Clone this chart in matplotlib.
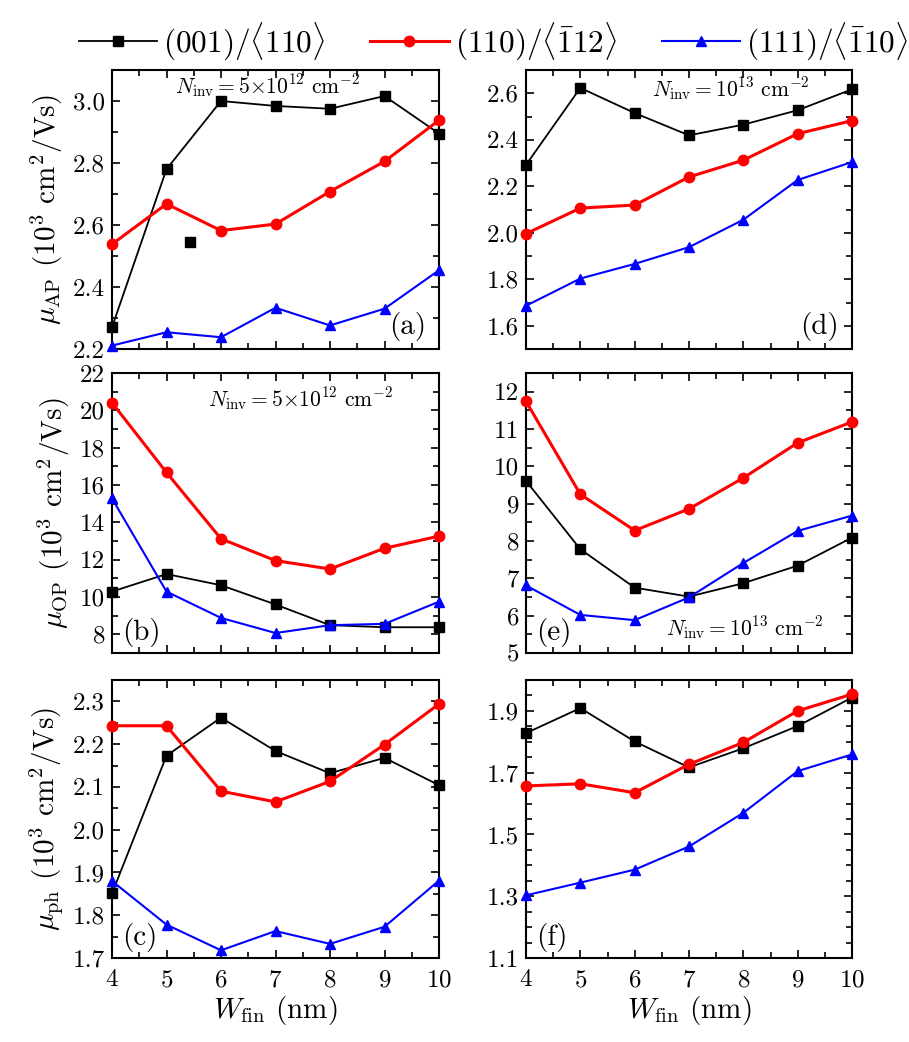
import matplotlib
matplotlib.use("Agg")
import matplotlib.pyplot as plt
from matplotlib.ticker import MultipleLocator, FormatStrFormatter

plt.rcParams['font.family'] = 'serif'
plt.rcParams['font.serif'] = ['cmr10', 'DejaVu Serif']
plt.rcParams['mathtext.fontset'] = 'cm'
plt.rcParams['axes.formatter.use_mathtext'] = True
plt.rcParams['axes.unicode_minus'] = False

W = [4, 5, 6, 7, 8, 9, 10]
series_labels = [r"$(001)/\langle 110\rangle$",
                 r"$(110)/\langle \bar{1}12\rangle$",
                 r"$(111)/\langle \bar{1}10\rangle$"]

# (a) mu_AP, N=5e12
a_001 = [2.27, 2.78, 3.00, 2.984, 2.975, 3.016, 2.895]
a_110 = [2.538, 2.668, 2.582, 2.603, 2.708, 2.805, 2.938]
a_111 = [2.211, 2.254, 2.238, 2.333, 2.276, 2.330, 2.454]
a_stray_x = [5.43]
a_stray_y = [2.544]
# (d) mu_AP, N=1e13
d_001 = [2.292, 2.623, 2.515, 2.419, 2.465, 2.527, 2.617]
d_110 = [1.996, 2.106, 2.119, 2.240, 2.312, 2.426, 2.482]
d_111 = [1.686, 1.803, 1.866, 1.938, 2.056, 2.227, 2.304]
# (b) mu_OP, N=5e12
b_001 = [10.29, 11.23, 10.63, 9.60, 8.49, 8.38, 8.38]
b_110 = [20.41, 16.67, 13.12, 11.95, 11.50, 12.61, 13.26]
b_111 = [15.28, 10.29, 8.88, 8.07, 8.49, 8.56, 9.75]
# (e) mu_OP, N=1e13
e_001 = [9.61, 7.78, 6.75, 6.51, 6.87, 7.34, 8.09]
e_110 = [11.74, 9.25, 8.28, 8.86, 9.69, 10.63, 11.19]
e_111 = [6.81, 6.02, 5.88, 6.49, 7.41, 8.27, 8.68]
# (c) mu_ph, N=5e12
c_001 = [1.851, 2.173, 2.262, 2.184, 2.132, 2.168, 2.104]
c_110 = [2.243, 2.243, 2.090, 2.065, 2.113, 2.199, 2.294]
c_111 = [1.880, 1.778, 1.718, 1.763, 1.733, 1.773, 1.881]
# (f) mu_ph, N=1e13
f_001 = [1.828, 1.909, 1.801, 1.717, 1.779, 1.851, 1.943]
f_110 = [1.657, 1.664, 1.635, 1.727, 1.798, 1.900, 1.954]
f_111 = [1.303, 1.344, 1.386, 1.461, 1.570, 1.705, 1.759]

ann_5e12 = r"$N_{\rm inv}=5{\times}10^{12}\ {\rm cm}^{-2}$"
ann_1e13 = r"$N_{\rm inv}=10^{13}\ {\rm cm}^{-2}$"

fig = plt.figure(figsize=(9.09, 10.42), dpi=100)

W_fig, H_fig = 909, 1042
def rect(l, r, t, b):
    return [l / W_fig, 1 - b / H_fig, (r - l) / W_fig, (b - t) / H_fig]

cols = [(112, 439), (526, 852)]
rows = [(70, 349), (373, 653), (680, 958)]

styles = [dict(color='black', marker='s', ms=6.5, lw=1.3),
          dict(color='red', marker='o', ms=7.5, lw=2.2),
          dict(color='blue', marker='^', ms=7.5, lw=1.5)]

panels = [
    (0, 0, (a_001, a_110, a_111), (2.2, 3.1), 0.2, 0, 0.1, '(a)', 'right', '%.1f'),
    (0, 1, (d_001, d_110, d_111), (1.5, 2.7), 0.2, 0, 0.1, '(d)', 'right', '%.1f'),
    (1, 0, (b_001, b_110, b_111), (7, 22), 2, 0, 1, '(b)', 'left', '%d'),
    (1, 1, (e_001, e_110, e_111), (5, 12.5), 1, 0, 0.5, '(e)', 'left', '%d'),
    (2, 0, (c_001, c_110, c_111), (1.7, 2.35), 0.1, 0, 0.05, '(c)', 'left', '%.1f'),
    (2, 1, (f_001, f_110, f_111), (1.1, 2.0), 0.2, 0.1, 0.05, '(f)', 'left', '%.1f'),
]

axes = {}
for r, c, data, ylim, maj, off, mnr, lab, lpos, fmt in panels:
    t, b = rows[r]
    l, rr = cols[c]
    ax = fig.add_axes(rect(l, rr, t, b))
    axes[(r, c)] = ax
    handles = []
    for ys, st in zip(data, styles):
        h, = ax.plot(W, ys, clip_on=False, zorder=3, **st)
        handles.append(h)
    ax.set_xlim(4, 10)
    ax.set_ylim(*ylim)
    ax.xaxis.set_major_locator(MultipleLocator(1))
    ax.xaxis.set_minor_locator(MultipleLocator(0.5))
    ax.yaxis.set_major_locator(MultipleLocator(maj, offset=off))
    ax.yaxis.set_minor_locator(MultipleLocator(mnr))
    ax.yaxis.set_major_formatter(FormatStrFormatter(fmt))
    ax.tick_params(which='both', direction='in', top=True, right=True,
                   labelsize=18, width=1.2, pad=5)
    ax.tick_params(axis='x', which='major', pad=8)
    ax.tick_params(which='major', length=6)
    ax.tick_params(which='minor', length=4)
    for sp in ax.spines.values():
        sp.set_linewidth(1.5)
    if r < 2:
        ax.tick_params(labelbottom=False)
    else:
        ax.set_xlabel(r"$W_{\rm fin}$ (nm)", fontsize=21, labelpad=2)
    if lpos == 'right':
        ax.text(0.96, 0.03, lab, transform=ax.transAxes, ha='right', va='bottom', fontsize=21)
    else:
        ax.text(0.03, 0.02, lab, transform=ax.transAxes, ha='left', va='bottom', fontsize=21)

axes[(0, 0)].plot(a_stray_x, a_stray_y, ls='none', color='black', marker='s', ms=6.5, zorder=3)

axes[(0, 0)].text(6.85, 3.09, ann_5e12, ha='center', va='top', fontsize=15.5)
axes[(0, 1)].text(7.76, 2.675, ann_1e13, ha='center', va='top', fontsize=15.5)
axes[(1, 0)].text(7.45, 21.3, ann_5e12, ha='center', va='top', fontsize=15.5)
axes[(1, 1)].text(8.03, 5.3, ann_1e13, ha='center', va='bottom', fontsize=15.5)

for key, lbl in [((0, 0), r"$\mu_{\rm AP}$ ($10^3$ cm$^2$/Vs)"),
                 ((1, 0), r"$\mu_{\rm OP}$ ($10^3$ cm$^2$/Vs)"),
                 ((2, 0), r"$\mu_{\rm ph}$ ($10^3$ cm$^2$/Vs)")]:
    axes[key].set_ylabel(lbl, fontsize=21, labelpad=6)

fig.legend(handles, series_labels, loc='upper center', bbox_to_anchor=(0.543, 1.0),
           ncol=3, frameon=False, fontsize=22.5, handlelength=2.5, columnspacing=1.45,
           handletextpad=0.2, borderaxespad=0.25)

fig.savefig("out.png", dpi=100)
